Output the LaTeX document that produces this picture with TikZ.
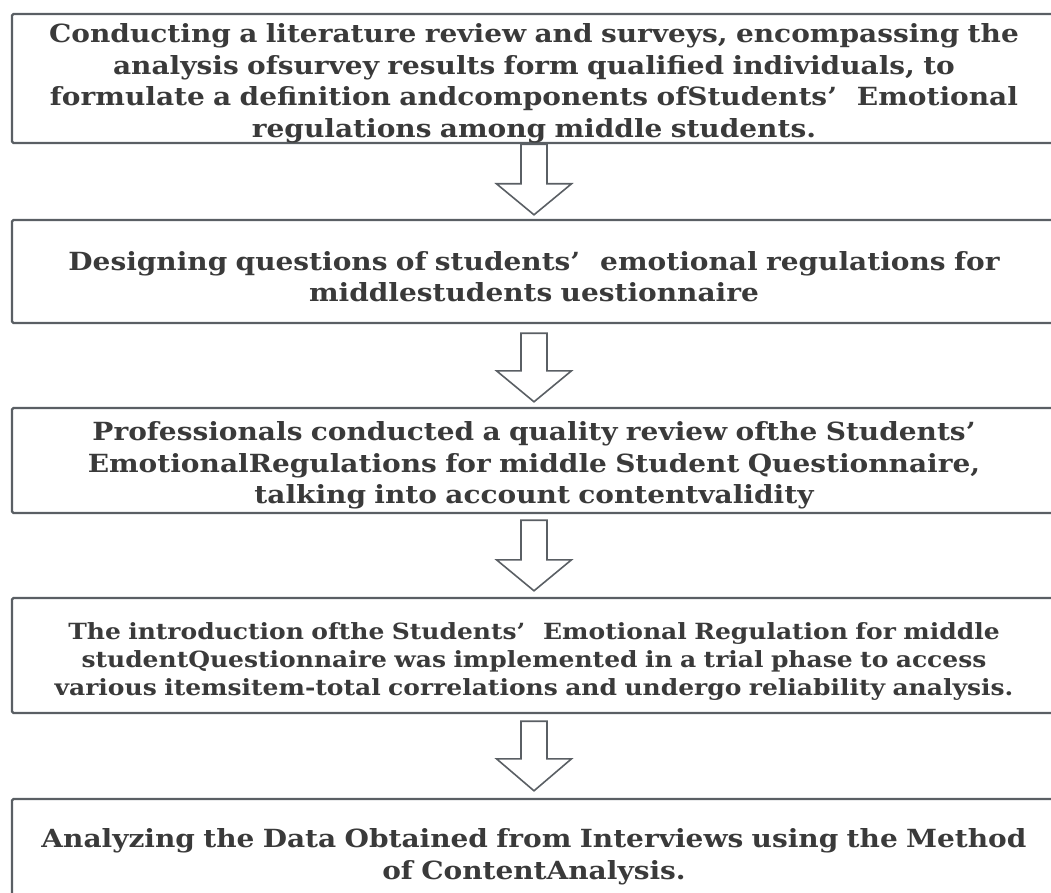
\documentclass[tikz,border=0pt]{standalone}
\usepackage{fontspec}
\setmainfont{DejaVu Serif}[FakeStretch=1.12]
\usetikzlibrary{calc}

\definecolor{boxline}{HTML}{5A5F64}
\definecolor{ink}{HTML}{3A3A3A}

\tikzset{
  stepbox/.style={draw=boxline, line width=2.4pt, rounded corners=1.5pt,
    minimum width=1044pt, text width=1040pt, align=center, inner sep=0pt,
    text=ink, font=\bfseries\fontsize{25}{31.5}\selectfont,
    % taller first line: sets the text a little below the box centre
    execute at begin node={\rule{0pt}{29pt}}},
  smalltext/.style={font=\bfseries\fontsize{22.3}{28}\selectfont},
  blockarrow/.style={draw=boxline, line width=1.6pt, fill=white, line join=miter},
}

% hollow block arrow between two boxes:
% #1 upper box, #2 lower box, #3 gap below #1, #4 gap above #2, #5 head length
\newcommand\flowarrow[5]{%
  \draw[blockarrow]
    ($(#1.south)+(-13,#3)$) -- ($(#2.north)+(-13,-#4-#5)$)
    -- ($(#2.north)+(-37.5,-#4-#5)$) -- ($(#2.north)+(0,-#4)$)
    -- ($(#2.north)+(37.5,-#4-#5)$) -- ($(#2.north)+(13,-#4-#5)$)
    -- ($(#1.south)+(13,#3)$) -- cycle;}

\begin{document}
\begin{tikzpicture}[x=1pt, y=-1pt]
  \useasboundingbox (0,0) rectangle (1051,893);
  \clip (0,0) rectangle (1051,893);

  \node[stepbox, minimum height=129pt] (b1) at (534,78.5)
    {Conducting a literature review and surveys, encompassing the\\
     analysis ofsurvey results form qualified individuals, to\\
     formulate a definition andcomponents ofStudents’\hspace{0.8em}Emotional\\
     regulations among middle students.};

  \node[stepbox, minimum height=103pt] (b2) at (534,271.5)
    {Designing questions of students’\hspace{0.8em}emotional regulations for\\
     middlestudents uestionnaire};

  \node[stepbox, minimum height=105pt] (b3) at (534,460.5)
    {Professionals conducted a quality review ofthe Students’\\
     EmotionalRegulations for middle Student Questionnaire,\\
     talking into account contentvalidity};

  \node[stepbox, smalltext, minimum height=115pt] (b4) at (534,655.5)
    {The introduction ofthe Students’\hspace{0.8em}Emotional Regulation for middle\\
     studentQuestionnaire was implemented in a trial phase to access\\
     various itemsitem-total correlations and undergo reliability analysis.};

  \node[stepbox, minimum height=106pt] (b5) at (534,852)
    {Analyzing the Data Obtained from Interviews using the Method\\
     of ContentAnalysis.};

  \flowarrow{b1}{b2}{0}{4}{31}
  \flowarrow{b2}{b3}{9}{5}{31}
  \flowarrow{b3}{b4}{6}{6}{31}
  \flowarrow{b4}{b5}{7}{7}{32}
\end{tikzpicture}
\end{document}
